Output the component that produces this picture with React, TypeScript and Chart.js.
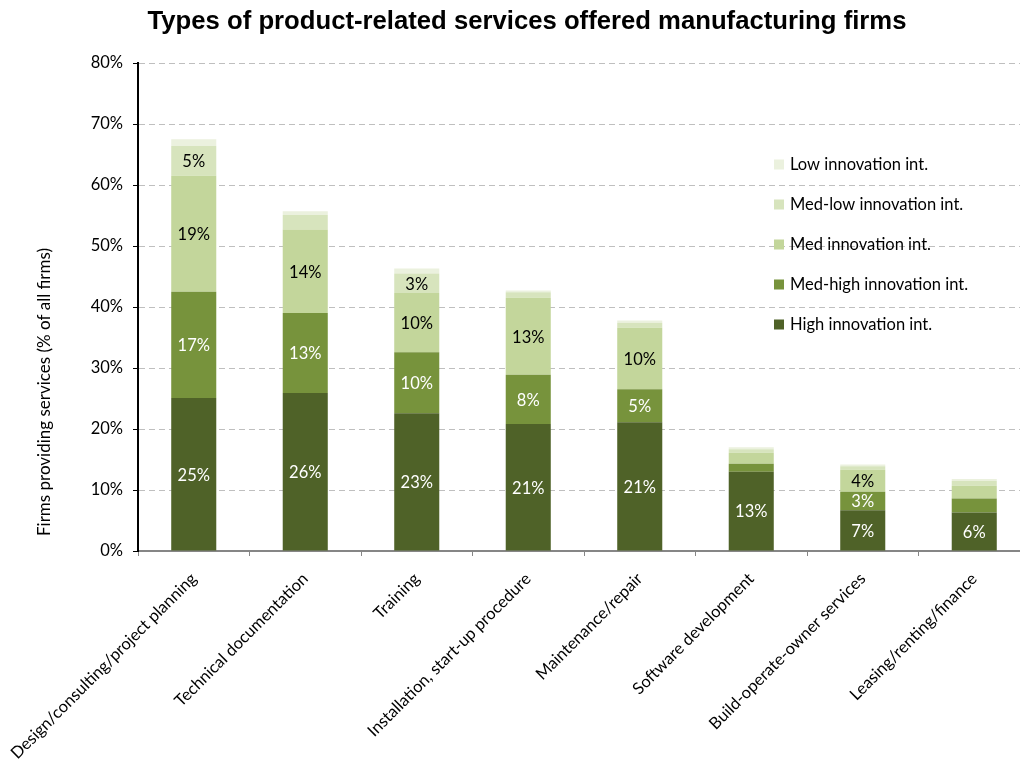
import React, { useEffect, useRef } from "react";
import { Chart, registerables } from "chart.js";

Chart.register(...registerables);

const titleText = "Types of product-related services offered manufacturing firms";
const yAxisTitle = "Firms providing services (% of all firms)";

const categories = [
  "Design/consulting/project planning",
  "Technical documentation",
  "Training",
  "Installation, start-up procedure",
  "Maintenance/repair",
  "Software development",
  "Build-operate-owner services",
  "Leasing/renting/finance",
];

const seriesNames = [
  "High innovation int.",
  "Med-high innovation int.",
  "Med innovation int.",
  "Med-low innovation int.",
  "Low innovation int.",
];

const highInnovation = [25.1, 25.9, 22.6, 20.8, 21.1, 13.0, 6.7, 6.3];
const medHighInnovation = [17.4, 13.1, 10.0, 8.1, 5.4, 1.3, 3.0, 2.3];
const medInnovation = [19.0, 13.7, 9.7, 12.6, 10.1, 1.8, 3.6, 2.1];
const medLowInnovation = [4.9, 2.4, 3.2, 0.9, 0.8, 0.6, 0.6, 0.8];
const lowInnovation = [1.1, 0.6, 0.8, 0.3, 0.4, 0.3, 0.3, 0.3];

const seriesColors = ["#4F6228", "#77933C", "#C3D69B", "#D7E4BD", "#EBF1DE"];
const labelColors = ["#FFFFFF", "#FFFFFF", "#000000", "#000000", ""];

const yMin = 0;
const yMax = 80;
const yStep = 10;

const FONT = "Lato, 'Open Sans', sans-serif";
const FS = 16.5;

const textPlugin = {
  id: "customText",
  afterDatasetsDraw(chart: any) {
    const ctx = chart.ctx;
    ctx.save();
    ctx.font = `${FS}px ${FONT}`;
    ctx.textAlign = "center";
    ctx.textBaseline = "middle";
    chart.data.datasets.forEach((ds: any, di: number) => {
      const color = labelColors[di];
      if (!color) return;
      const meta = chart.getDatasetMeta(di);
      meta.data.forEach((el: any, i: number) => {
        const v = ds.data[i];
        if (v < 2.5) return;
        ctx.fillStyle = color;
        ctx.fillText(Math.round(v) + "%", el.x, (el.y + el.base) / 2 + 1);
      });
    });
    ctx.restore();
  },
  afterDraw(chart: any) {
    const ctx = chart.ctx;
    const area = chart.chartArea;
    ctx.save();
    // title
    ctx.fillStyle = "#000";
    ctx.font = `bold 25.7px 'Liberation Sans', Arial, sans-serif`;
    ctx.textAlign = "center";
    ctx.textBaseline = "middle";
    ctx.fillText(titleText, 527, 22);
    // y axis title
    ctx.font = `17px ${FONT}`;
    ctx.translate(45, 392);
    ctx.rotate(-Math.PI / 2);
    ctx.fillText(yAxisTitle, 0, 0);
    ctx.restore();
    // legend
    ctx.save();
    ctx.font = `${FS}px ${FONT}`;
    ctx.textAlign = "left";
    ctx.textBaseline = "middle";
    const n = chart.data.datasets.length;
    for (let k = 0; k < n; k++) {
      const di = n - 1 - k;
      const ds = chart.data.datasets[di];
      const cy = area.top + 101.5 + k * 40;
      const sx = area.left + 636;
      ctx.fillStyle = ds.backgroundColor;
      ctx.fillRect(sx, cy - 5, 10, 10);
      ctx.fillStyle = "#000";
      ctx.fillText(ds.label, sx + 16, cy);
    }
    ctx.restore();
  },
};

export default function App() {
  const canvasRef = useRef<HTMLCanvasElement | null>(null);

  useEffect(() => {
    if (!canvasRef.current) return;
    const seriesValues = [
      highInnovation,
      medHighInnovation,
      medInnovation,
      medLowInnovation,
      lowInnovation,
    ];
    const chart = new Chart(canvasRef.current, {
      type: "bar",
      data: {
        labels: categories,
        datasets: seriesValues.map((vals, i) => ({
          label: seriesNames[i],
          data: vals,
          backgroundColor: seriesColors[i],
          borderWidth: 0,
          categoryPercentage: 1,
          barPercentage: 0.404,
        })),
      },
      plugins: [textPlugin],
      options: {
        animation: false,
        responsive: true,
        maintainAspectRatio: false,
        layout: { padding: { top: 63, left: 0, right: 10, bottom: 0 } },
        plugins: {
          legend: { display: false },
          title: { display: false },
          tooltip: { enabled: false },
        },
        scales: {
          x: {
            stacked: true,
            grid: {
              display: true,
              drawOnChartArea: false,
              drawTicks: true,
              tickLength: 5,
              tickColor: "#868686",
              offset: true,
            },
            border: { display: true, color: "#868686", width: 2 },
            ticks: {
              autoSkip: false,
              maxRotation: 45,
              minRotation: 45,
              padding: 13,
              color: "#000",
              font: { family: FONT, size: FS },
            },
            afterFit(scale: any) {
              scale.height = 209;
              scale.paddingLeft = 0;
              scale.paddingRight = 0;
            },
          },
          y: {
            stacked: true,
            min: yMin,
            max: yMax,
            grid: {
              color: "#BFBFBF",
              lineWidth: 1,
              tickLength: 5,
              tickColor: "#000",
              tickBorderDash: [],
            },
            border: { display: true, color: "#000", width: 2, dash: [6, 4] },
            ticks: {
              stepSize: yStep,
              padding: 10,
              color: "#000",
              font: { family: FONT, size: FS },
              callback: (v: any) => v + "%",
            },
            afterFit(scale: any) {
              scale.width = 138;
            },
          },
        },
      },
    });
    return () => chart.destroy();
  }, []);

  return (
    <div
      style={{
        position: "fixed",
        left: 0,
        top: 0,
        width: 1020,
        height: 760,
        overflow: "hidden",
        background: "#fff",
      }}
    >
      <div style={{ position: "relative", width: 1040, height: 760 }}>
        <canvas ref={canvasRef} />
      </div>
    </div>
  );
}
